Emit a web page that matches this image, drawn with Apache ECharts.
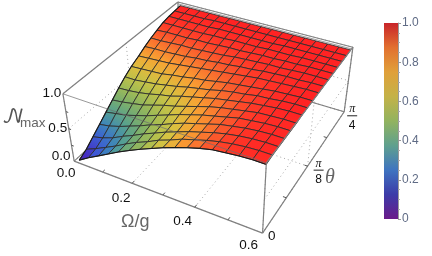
<!DOCTYPE html>
<html><head><meta charset="utf-8">
<style>html,body{margin:0;padding:0;background:#fff}#c{width:432px;height:256px}</style>
<script src="https://cdn.jsdelivr.net/npm/echarts@6/dist/echarts.min.js"></script></head>
<body><div id="c"></div><script>
// ---- data ----
const omegaMesh=[0.02,0.056,0.093,0.129,0.165,0.201,0.238,0.274,0.31,0.346,0.383,0.419,0.455,0.491,0.528,0.564,0.6];
// theta as a fraction of pi/4
const thetaMesh=[0,0.06,0.12,0.18,0.24,0.3,0.36,0.42,0.48,0.55,0.61,0.67,0.73,0.79,0.85,0.91,0.97];
const nMax=[
[.05,.15,.24,.33,.42,.50,.58,.65,.72,.78,.84,.89,.93,.95,.97,.98,.98],
[.11,.18,.26,.34,.43,.51,.58,.66,.72,.79,.84,.89,.93,.96,.98,.99,.99],
[.20,.24,.30,.38,.45,.53,.60,.67,.73,.79,.84,.89,.93,.96,.98,.99,.99],
[.29,.32,.37,.43,.49,.56,.62,.69,.75,.80,.85,.90,.93,.96,.98,.99,.99],
[.38,.41,.44,.49,.54,.60,.66,.72,.77,.82,.86,.90,.94,.96,.98,.99,.99],
[.47,.49,.52,.55,.60,.65,.69,.74,.79,.84,.88,.91,.94,.97,.98,.99,.99],
[.56,.57,.59,.62,.66,.69,.74,.78,.82,.86,.89,.92,.95,.97,.99,1,1],
[.64,.64,.66,.68,.71,.74,.78,.81,.84,.88,.91,.93,.96,.97,.99,1,1],
[.71,.72,.73,.74,.77,.79,.82,.84,.87,.90,.92,.94,.96,.98,.99,1,1],
[.77,.78,.79,.80,.82,.84,.86,.88,.90,.92,.94,.96,.97,.98,.99,1,1],
[.83,.84,.84,.85,.86,.88,.89,.91,.92,.94,.95,.97,.98,.99,.99,1,1],
[.88,.88,.89,.90,.90,.91,.92,.93,.95,.96,.97,.98,.98,.99,1,1,1],
[.92,.93,.93,.93,.94,.94,.95,.96,.96,.97,.98,.98,.99,.99,1,1,1],
[.96,.96,.96,.96,.96,.97,.97,.98,.98,.98,.99,.99,.99,1,1,1,1],
[.98,.98,.98,.98,.98,.99,.99,.99,.99,.99,.99,1,1,1,1,1,1],
[.99,.99,.99,.99,1,1,1,1,1,1,1,1,1,1,1,1,1],
[1,1,1,1,1,1,1,1,1,1,1,1,1,1,1,1,1]];
const omegaTicks=[0,0.2,0.4,0.6], omegaTickLabels=['0.0','0.2','0.4','0.6'];
const zTicks=[0,0.5,1], zTickLabels=['0.0','0.5','1.0'];
const thetaTicks=[0,0.5,1];
// ---- view of the box: [omega/0.6, theta fraction, z] seen at [px,py] ----
const viewAnchors=[[0,0,0,74,161],[1,0,0,263,233],[1,1,0,344,112],[0,1,1,178,2],[0,0,1,63,94],[1,0,1,266,163],[1,1,1,353,47]];
// colours
const surfaceStops=[[0,[80,20,150]],[.1,[70,40,190]],[.2,[60,85,215]],[.3,[60,130,190]],[.4,[85,160,145]],[.5,[125,175,105]],[.6,[170,190,80]],[.7,[215,195,65]],[.8,[250,160,50]],[.9,[250,95,45]],[.95,[255,60,40]],[1,[255,35,35]]];
const barStops=['#6a1b8a','#3c3ba8','#3f74c0','#5fa08e','#92b35f','#c4b248','#e0a03a','#e2702f','#c8242a'];

// fit a projective camera to the anchors
function fit(a){const A=[],B=[];a.forEach(([x,y,z,u,v])=>{A.push([x,y,z,1,0,0,0,0,-u*x,-u*y,-u*z]);B.push(u);A.push([0,0,0,0,x,y,z,1,-v*x,-v*y,-v*z]);B.push(v);});
 const n=11,M=[];for(let i=0;i<n;i++){M.push([]);for(let j=0;j<=n;j++){let s=0;A.forEach((r,k)=>{s+=r[i]*(j<n?r[j]:B[k]);});M[i].push(s);}}
 for(let i=0;i<n;i++){let p=i;for(let k=i+1;k<n;k++)if(Math.abs(M[k][i])>Math.abs(M[p][i]))p=k;[M[i],M[p]]=[M[p],M[i]];
  for(let k=0;k<n;k++)if(k!==i){const f=M[k][i]/M[i][i];for(let j=i;j<=n;j++)M[k][j]-=f*M[i][j];}}
 return M.map((r,i)=>r[n]/r[i]);}
const P=fit(viewAnchors);
function project(om,th,z){const x=om/0.6,y=th,w=P[8]*x+P[9]*y+P[10]*z+1;
 return [(P[0]*x+P[1]*y+P[2]*z+P[3])/w,(P[4]*x+P[5]*y+P[6]*z+P[7])/w];}
function col(v){for(let i=1;i<surfaceStops.length;i++){if(v<=surfaceStops[i][0]){const [a,ca]=surfaceStops[i-1],[b,cb]=surfaceStops[i],t=(v-a)/(b-a);
 return 'rgb('+ca.map((c,k)=>Math.round(c+(cb[k]-c)*t)).join(',')+')';}}return 'rgb(255,35,35)';}

// segments of the frame
const dot={stroke:'#a8a8a8',lineWidth:1,lineDash:[1,3]};
const edge={stroke:'#808080',lineWidth:1.2};
const backSegs=[];
function seg(a,b,s){return {a,b,s};}
omegaTicks.forEach(o=>{backSegs.push(seg([o,0,0],[o,1,0],dot));backSegs.push(seg([o,1,0],[o,1,1],dot));});
thetaTicks.forEach(t=>{backSegs.push(seg([0,t,0],[.6,t,0],dot));backSegs.push(seg([0,t,0],[0,t,1],dot));backSegs.push(seg([.6,t,0],[.6,t,1],dot));});
zTicks.forEach(z=>{backSegs.push(seg([0,0,z],[0,1,z],dot));backSegs.push(seg([0,1,z],[.6,1,z],dot));backSegs.push(seg([.6,0,z],[.6,1,z],dot));});
[[[0,1,0],[.6,1,0]],[[0,0,0],[0,1,0]],[[.6,1,0],[.6,1,1]],[[0,1,0],[0,1,1]],[[0,0,0],[0,0,1]],[[0,0,0],[.6,0,0]],[[.6,0,0],[.6,1,0]],[[0,0,1],[0,1,1]],[[0,1,1],[.6,1,1]]].forEach(e=>backSegs.push(seg(e[0],e[1],edge)));
const innerEdge={stroke:'#a0a0a0',lineWidth:1};
backSegs.push(seg([0,.985,.995],[.6,.985,.995],innerEdge));
const frontSegs=[
 seg([0,0,1],[.6,0,1],{stroke:'rgba(110,110,110,.7)',lineWidth:1}),
 seg([.6,0,0],[.6,0,1],edge),
 seg([.6,0,1],[.6,1,1],edge)];
// short ticks
const tickS={stroke:'#555',lineWidth:1};
[0.1,0.2,0.3,0.4,0.5].forEach(o=>frontSegs.push(seg([o,0,0],[o,0.018,0],tickS)));
[.25,.5,.75].forEach(t=>frontSegs.push(seg([.6,t,0],[.59,t,0],tickS)));
[.25,.5,.75].forEach(z=>frontSegs.push(seg([0,0,z],[0.008,0,z],tickS)));

const cells=[];for(let j=thetaMesh.length-2;j>=0;j--)for(let i=0;i<omegaMesh.length-1;i++)cells.push([i,j]);
function renderSeg(list){return (p,api)=>{const s=list[p.dataIndex];
 return {type:'line',shape:(()=>{const A=api.coord(project(...s.a)),B=api.coord(project(...s.b));return {x1:A[0],y1:A[1],x2:B[0],y2:B[1]};})(),style:Object.assign({fill:null},s.s),silent:true};};}
function edgePath(api,pts){return {type:'polyline',shape:{points:pts.map(q=>api.coord(project(...q)))},style:{fill:null,stroke:'#1a1a1a',lineWidth:1.1},silent:true};}

// text labels: anchored on a data position plus a small offset
const labels=[];
const T=(text,anchor,dx,dy)=>labels.push({text,anchor,dx,dy});
T(zTickLabels[0],[0,0,0],-13,-5);T(zTickLabels[1],[0,0,.5],-11,0);T(zTickLabels[2],[0,0,1],-11,-1);
T(omegaTickLabels[0],[0,0,0],-8,12);T(omegaTickLabels[1],[.2,0,0],-11,15);T(omegaTickLabels[2],[.4,0,0],-12,14);T(omegaTickLabels[3],[.6,0,0],-14,12);
const F='"Liberation Sans",Arial,sans-serif';
function renderLabel(p,api){const l=labels[p.dataIndex],c=api.coord(project(...l.anchor));
 return {type:'text',x:c[0]+l.dx,y:c[1]+l.dy,style:{text:l.text,fill:'#111',font:'13.5px '+F,align:'center',verticalAlign:'middle'},silent:true};}
function frac(den,anchor,dx,dy){return (api)=>{const c=api.coord(project(...anchor)),x=c[0]+dx,y=c[1]+dy;return [
 {type:'text',x,y:y-6.5,style:{text:'π',fill:'#111',font:'italic 12px "Liberation Serif",serif',align:'center',verticalAlign:'middle'},silent:true},
 {type:'line',shape:{x1:x-5,y1:y,x2:x+5,y2:y},style:{stroke:'#222',lineWidth:1},silent:true},
 {type:'text',x,y:y+9.5,style:{text:den,fill:'#111',font:'12px '+F,align:'center',verticalAlign:'middle'},silent:true}];};}
const fracs=[frac('8',[.6,.5,0],11,4),frac('4',[.6,1,0],8,4)];

const option={animation:false,
 grid:[{left:0,right:0,top:0,bottom:0},{left:384,top:23,width:14,height:196}],
 xAxis:[{type:'value',min:0,max:432,show:false,gridIndex:0},{type:'category',data:[''],show:false,gridIndex:1}],
 yAxis:[{type:'value',min:0,max:256,inverse:true,show:false,gridIndex:0},
  {type:'value',min:0,max:1,interval:.2,position:'right',gridIndex:1,
   axisLine:{show:true,lineStyle:{color:'#999'}},axisTick:{show:true,length:3,inside:false,lineStyle:{color:'#999'}},
   minorTick:{show:true,splitNumber:4,length:2,lineStyle:{color:'#aaa'}},splitLine:{show:false},
   axisLabel:{color:'#5f6b85',fontSize:12,fontFamily:'"Liberation Sans",Arial',margin:4,formatter:v=>v===0?'0':v.toFixed(1)}}],
 series:[
  {type:'custom',coordinateSystem:'cartesian2d',clip:false,silent:true,data:backSegs.map((s,i)=>i),renderItem:renderSeg(backSegs)},
  {type:'custom',coordinateSystem:'cartesian2d',clip:false,silent:true,data:cells.map((c,i)=>i),renderItem:(p,api)=>{
    const [i,j]=cells[p.dataIndex],o0=omegaMesh[i],o1=omegaMesh[i+1],t0=thetaMesh[j],t1=thetaMesh[j+1];
    const a=nMax[j][i],b=nMax[j][i+1],c=nMax[j+1][i+1],d=nMax[j+1][i];
    const pts=[[o0,t0,a],[o1,t0,b],[o1,t1,c],[o0,t1,d]].map(q=>api.coord(project(...q)));
    const m0=[(pts[0][0]+pts[1][0])/2,(pts[0][1]+pts[1][1])/2],m1=[(pts[2][0]+pts[3][0])/2,(pts[2][1]+pts[3][1])/2];
    const grad=new echarts.graphic.LinearGradient(m0[0],m0[1],m1[0],m1[1],[{offset:0,color:col((a+b)/2)},{offset:1,color:col((c+d)/2)}],true);
    return {type:'polygon',shape:{points:pts},style:{fill:grad,stroke:'rgba(45,45,45,.85)',lineWidth:1},silent:true};}},
  {type:'custom',coordinateSystem:'cartesian2d',clip:false,silent:true,data:[0,1],renderItem:(p,api)=>
    p.dataIndex===0?edgePath(api,omegaMesh.map((o,i)=>[o,0,nMax[0][i]])):edgePath(api,thetaMesh.map((t,j)=>[omegaMesh[0],t,nMax[j][0]]))},
  {type:'custom',coordinateSystem:'cartesian2d',clip:false,silent:true,data:frontSegs.map((s,i)=>i),renderItem:renderSeg(frontSegs)},
  {type:'custom',coordinateSystem:'cartesian2d',clip:false,silent:true,data:labels.map((l,i)=>i),renderItem:renderLabel},
  {type:'custom',coordinateSystem:'cartesian2d',clip:false,silent:true,data:[0,1],renderItem:(p,api)=>({type:'group',children:fracs[p.dataIndex](api)})},
  {type:'bar',xAxisIndex:1,yAxisIndex:1,data:[1],barWidth:'100%',silent:true,
   itemStyle:{color:new echarts.graphic.LinearGradient(0,1,0,0,barStops.map((c,i)=>({offset:i/(barStops.length-1),color:c})))}}
 ],
 graphic:[
  {type:'text',left:268,top:229,style:{text:'0',fill:'#111',font:'13.5px '+F}},
  {type:'text',left:325,top:168,style:{text:'θ',fill:'#666',font:'italic 20px "Liberation Serif",serif'}},
  {type:'text',left:121,top:213,style:{text:'Ω/g',fill:'#666',font:'18px '+F}},
  {type:'text',left:2,top:107,style:{text:'𝒩',fill:'#555',font:'20px "DejaVu Math TeX Gyre","DejaVu Serif",serif'}},
  {type:'text',left:20,top:116,style:{text:'max',fill:'#666',font:'13.5px '+F}}
 ]};
echarts.init(document.getElementById('c'),null,{renderer:'canvas'}).setOption(option);
</script></body></html>
